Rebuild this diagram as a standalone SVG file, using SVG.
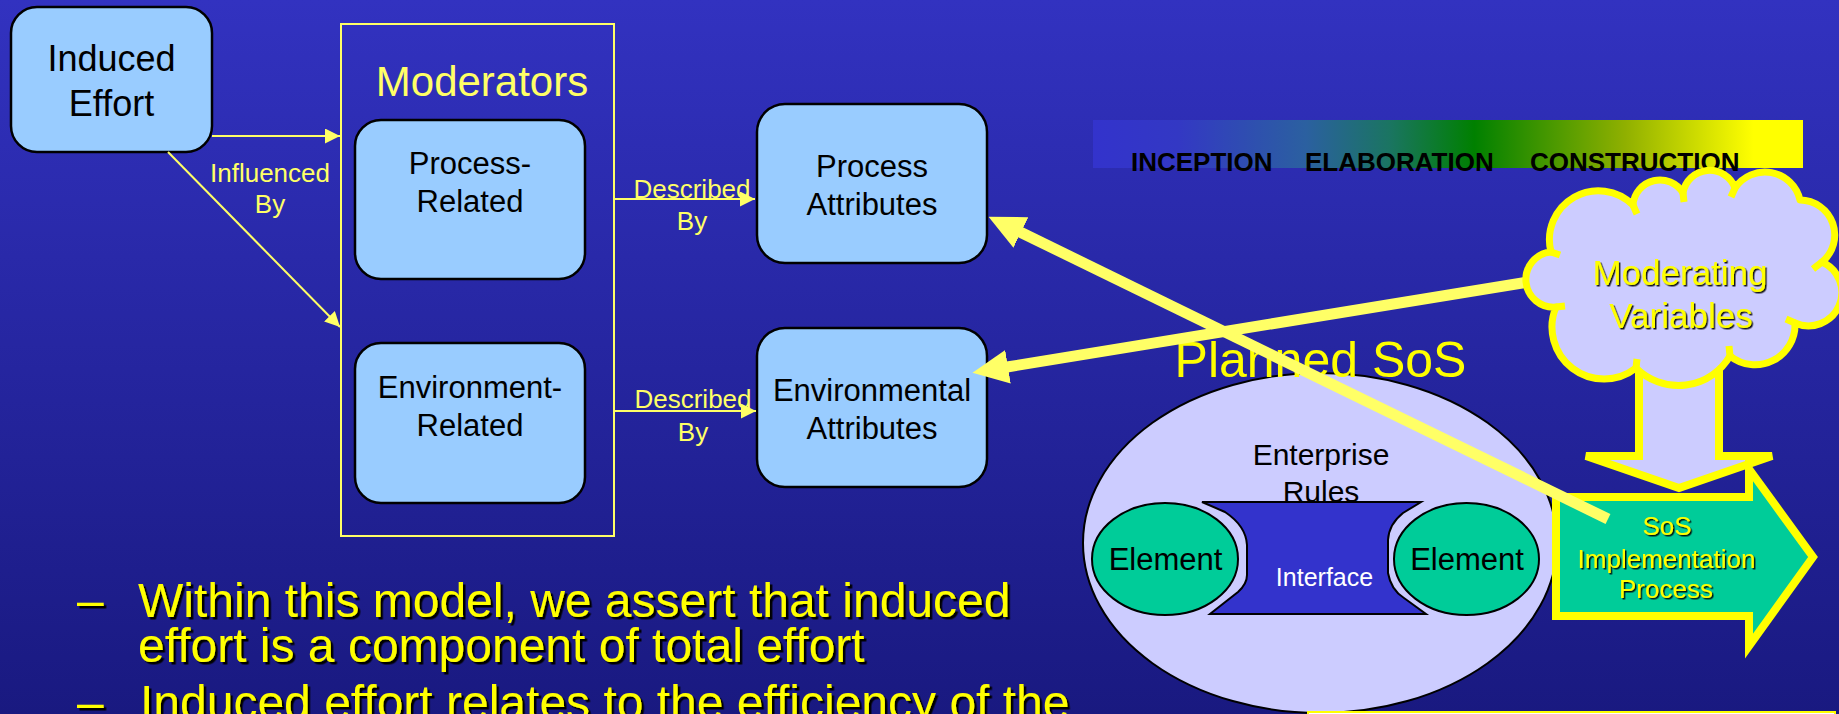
<svg xmlns="http://www.w3.org/2000/svg" width="1839" height="714" viewBox="0 0 1839 714">
<defs>
<linearGradient id="bg" x1="0" y1="0" x2="0" y2="1">
<stop offset="0" stop-color="#3232C0"/>
<stop offset="1" stop-color="#191980"/>
</linearGradient>
<linearGradient id="bar" x1="0" y1="0" x2="1" y2="0">
<stop offset="0" stop-color="#3333CC"/>
<stop offset="0.12" stop-color="#3338C4"/>
<stop offset="0.3" stop-color="#2B60A0"/>
<stop offset="0.42" stop-color="#1A7560"/>
<stop offset="0.537" stop-color="#008000"/>
<stop offset="0.75" stop-color="#90B000"/>
<stop offset="0.93" stop-color="#FFFF00"/>
<stop offset="1" stop-color="#FFFF00"/>
</linearGradient>
<filter id="sh" x="-5%" y="-20%" width="115%" height="150%">
<feDropShadow dx="2.5" dy="2.5" stdDeviation="0" flood-color="#000" flood-opacity="1"/>
</filter>
<filter id="shs" x="-5%" y="-20%" width="115%" height="150%">
<feDropShadow dx="1.5" dy="1.5" stdDeviation="0" flood-color="#000" flood-opacity="0.9"/>
</filter>
<marker id="ah" markerUnits="userSpaceOnUse" markerWidth="15" markerHeight="15" viewBox="0 0 15 15" refX="15" refY="7.5" orient="auto">
<path d="M0,0 L15,7.5 L0,15 Z" fill="#FFFF66"/>
</marker>
<marker id="bh" markerUnits="userSpaceOnUse" markerWidth="36" markerHeight="34" viewBox="0 0 36 34" refX="1" refY="17" orient="auto">
<path d="M0,0 L36,17 L0,34 Z" fill="#FFFF66"/>
</marker>
<style>
.f{font-family:'Liberation Sans',Arial,Helvetica,sans-serif}
.node{fill:#99CCFF;stroke:#000;stroke-width:2.5}
.nt{font-size:31px;fill:#000;text-anchor:middle}
.lbl{font-size:26px;fill:#FFFF66;text-anchor:middle}
.thin{stroke:#FFFF66;stroke-width:2;fill:none;marker-end:url(#ah)}
.big{stroke:#FFFF66;stroke-width:11;fill:none;marker-end:url(#bh)}
.blk{stroke:#FFFF00;stroke-width:8;stroke-linejoin:miter}
.bul{font-size:48px;fill:#FFFF00}
.phase{font-size:26px;font-weight:bold;fill:#000}
.el{fill:#00CC99;stroke:#000;stroke-width:2}
</style>
</defs>
<rect x="0" y="0" width="1839" height="714" fill="url(#bg)"/>

<g id="induced-effort">
<rect class="node" x="11" y="7" width="201" height="145" rx="26" ry="26"/>
<text class="f nt" style="font-size:36px" x="111.5" y="71">Induced</text>
<text class="f nt" style="font-size:36px" x="111.5" y="116">Effort</text>
</g>

<g id="moderators">
<rect x="341" y="24" width="273" height="512" fill="none" stroke="#FFFF66" stroke-width="2"/>
<text class="f" x="482" y="96" font-size="42" fill="#FFFF66" text-anchor="middle">Moderators</text>
</g>

<g id="process-related">
<rect class="node" x="355" y="120" width="230" height="159" rx="26" ry="26"/>
<text class="f nt" x="470" y="174">Process-</text>
<text class="f nt" x="470" y="212">Related</text>
</g>

<g id="environment-related">
<rect class="node" x="355" y="343" width="230" height="160" rx="26" ry="26"/>
<text class="f nt" x="470" y="398">Environment-</text>
<text class="f nt" x="470" y="436">Related</text>
</g>

<g id="process-attributes">
<rect class="node" x="757" y="104" width="230" height="159" rx="28" ry="28"/>
<text class="f nt" x="872" y="177">Process</text>
<text class="f nt" x="872" y="215">Attributes</text>
</g>

<g id="environmental-attributes">
<rect class="node" x="757" y="328" width="230" height="159" rx="28" ry="28"/>
<text class="f nt" x="872" y="401">Environmental</text>
<text class="f nt" x="872" y="439">Attributes</text>
</g>

<g id="phase-bar">
<rect x="1093" y="120" width="710" height="48" fill="url(#bar)"/>
<text class="f phase" x="1131" y="171">INCEPTION</text>
<text class="f phase" x="1305" y="171">ELABORATION</text>
<text class="f phase" x="1530" y="171">CONSTRUCTION</text>
</g>

<g id="planned-sos">
<ellipse cx="1320" cy="543" rx="237" ry="170" fill="#CCCCFF" stroke="#000" stroke-width="2"/>
<text class="f" x="1321" y="465" font-size="30" fill="#000" text-anchor="middle">Enterprise</text>
<text class="f" x="1321" y="502" font-size="30" fill="#000" text-anchor="middle">Rules</text>
<text class="f" x="1320.5" y="377" font-size="50" fill="#FFFF00" text-anchor="middle">Planned SoS</text>
</g>

<g id="interface">
<path d="M1202,502 L1421,502 L1403,513 Q1389,524 1388,540 L1388,573 Q1391,590 1404,598 L1426,614 L1210,614 L1238,592 Q1247,584 1247,575 L1247,545 Q1246,526 1225,512 Z" fill="#3333CC" stroke="#000" stroke-width="2"/>
<text class="f" x="1324.5" y="586" font-size="25" fill="#FFFFFF" text-anchor="middle">Interface</text>
</g>

<g id="element-left">
<ellipse class="el" cx="1165" cy="559" rx="73" ry="56"/>
<text class="f nt" x="1165.5" y="570">Element</text>
</g>

<g id="element-right">
<ellipse class="el" cx="1466.5" cy="559" rx="72.5" ry="56"/>
<text class="f nt" x="1467" y="570">Element</text>
</g>

<g id="down-arrow">
<path class="blk" d="M1639,348 H1719 V456 H1772 L1679,488 L1586,456 H1639 Z" fill="#CCCCFF"/>
</g>

<g id="sos-implementation">
<path class="blk" d="M1556,497 H1749 V469 L1813,557 L1749,646 V616 H1556 Z" fill="#00CC99"/>
<text class="f" x="1667" y="535" font-size="26" fill="#FFFF00" text-anchor="middle" filter="url(#shs)">SoS</text>
<text class="f" x="1666.5" y="568" font-size="26" fill="#FFFF00" text-anchor="middle" filter="url(#shs)">Implementation</text>
<text class="f" x="1666" y="598" font-size="26" fill="#FFFF00" text-anchor="middle" filter="url(#shs)">Process</text>
</g>

<g id="connectors">
<line class="thin" x1="212" y1="136" x2="340" y2="136"/>
<line class="thin" x1="168" y1="152" x2="340" y2="327"/>
<line class="thin" x1="614" y1="199" x2="755" y2="199"/>
<line class="thin" x1="614" y1="411" x2="756" y2="411"/>
<text class="f lbl" x="270" y="182">Influenced</text>
<text class="f lbl" x="270" y="213">By</text>
<text class="f lbl" x="692" y="198">Described</text>
<text class="f lbl" x="692" y="230">By</text>
<text class="f lbl" x="693" y="408">Described</text>
<text class="f lbl" x="693" y="441">By</text>
<line class="big" x1="1608" y1="519" x2="1020" y2="232"/>
<line class="big" x1="1534" y1="281" x2="1007" y2="367"/>
</g>

<g id="moderating-variables">
<path d="M1551,252 A27.6,27.6 0 0,0 1556,307 A52,52 0 0,0 1636,368 A60,60 0 0,0 1730,356 A40,40 0 0,0 1795,323 A33,33 0 0,0 1822,262 A35,35 0 0,0 1800,200 A36,36 0 0,0 1735,188 A27,27 0 0,0 1683,193 A27,27 0 0,0 1633,205 A49,49 0 0,0 1551,252 Z" fill="#CCCCFF" stroke="#FFFF00" stroke-width="7" stroke-linejoin="round"/>
<g stroke="#FFFF00" stroke-width="7" fill="none">
<path d="M1633,205 l4,9"/>
<path d="M1683,193 l1,9"/>
<path d="M1735,188 l-4,9"/>
<path d="M1822,262 l-9,7"/>
<path d="M1551,252 l9,3"/>
<path d="M1556,307 l9,-1"/>
<path d="M1636,368 l1,-9"/>
<path d="M1730,356 l-1,-10"/>
<path d="M1795,323 l-9,-4"/>
</g>
<text class="f" x="1680" y="285" font-size="35" fill="#FFFF00" text-anchor="middle" filter="url(#shs)">Moderating</text>
<text class="f" x="1681" y="328" font-size="35" fill="#FFFF00" text-anchor="middle" filter="url(#shs)">Variables</text>
</g>

<g id="bullets" filter="url(#sh)">
<text class="f bul" x="77" y="617">–</text>
<text class="f bul" x="138" y="617">Within this model, we assert that induced</text>
<text class="f bul" x="138" y="662">effort is a component of total effort</text>
<text class="f bul" x="77" y="719">–</text>
<text class="f bul" x="140" y="719">Induced effort relates to the efficiency of the</text>
</g>

<g id="bottom-box">
<rect x="1308" y="712" width="527" height="20" fill="#FFFFFF" stroke="#FFFF00" stroke-width="2"/>
</g>
</svg>
